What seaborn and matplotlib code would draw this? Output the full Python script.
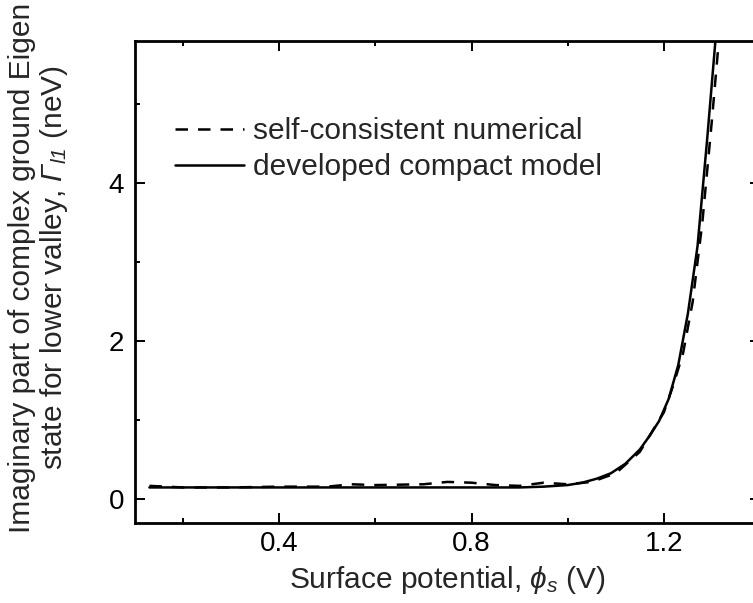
import matplotlib
matplotlib.use("Agg")
import matplotlib.pyplot as plt
import seaborn as sns
import pandas as pd

# Surface potential (V) and imaginary part of the ground eigenstate (neV)
numerical_phi = [0.13, 0.20, 0.30, 0.40, 0.50, 0.55, 0.60, 0.70, 0.75, 0.80, 0.85,
                 0.90, 0.95, 1.00, 1.05, 1.10, 1.15, 1.20, 1.22, 1.24, 1.26, 1.28,
                 1.30, 1.32]
numerical_gamma = [0.17, 0.15, 0.15, 0.16, 0.16, 0.19, 0.18, 0.19, 0.22, 0.21, 0.18,
                   0.17, 0.21, 0.19, 0.22, 0.33, 0.60, 1.10, 1.45, 1.85, 2.50, 3.50,
                   4.80, 6.20]

model_phi = [0.13, 0.20, 0.30, 0.40, 0.50, 0.60, 0.70, 0.80, 0.90, 0.95, 1.00,
             1.03, 1.06, 1.09, 1.12, 1.15, 1.17, 1.19, 1.21, 1.23, 1.25, 1.27,
             1.29, 1.31]
model_gamma = [0.15, 0.15, 0.15, 0.15, 0.15, 0.15, 0.15, 0.15, 0.15, 0.16, 0.18,
               0.21, 0.26, 0.33, 0.45, 0.63, 0.80, 0.99, 1.27, 1.70, 2.35, 3.20,
               4.55, 6.00]

series_names = ["self-consistent numerical", "developed compact model"]

x_ticks = [0.4, 0.8, 1.2]
y_ticks = [0, 2, 4]

df = pd.concat([
    pd.DataFrame({"phi": numerical_phi, "gamma": numerical_gamma, "curve": series_names[0]}),
    pd.DataFrame({"phi": model_phi, "gamma": model_gamma, "curve": series_names[1]}),
], ignore_index=True)

sns.set_style("ticks")
plt.rcParams["font.family"] = ["Liberation Sans", "DejaVu Sans"]
# all math symbols (Greek letters and their subscripts) are set in italic
plt.rcParams["mathtext.fontset"] = "custom"
plt.rcParams["mathtext.rm"] = "Liberation Sans:italic"
plt.rcParams["mathtext.it"] = "Liberation Sans:italic"

W, H = 753, 603
fig = plt.figure(figsize=(W / 100, H / 100), dpi=100)
ax = fig.add_axes([135 / W, (H - 523) / H, 625 / W, 482 / H])

sns.lineplot(data=df, x="phi", y="gamma", style="curve", style_order=series_names,
             dashes={series_names[0]: (5, 4), series_names[1]: ""},
             color="black", linewidth=1.8, sort=False, estimator=None, ax=ax)

ax.set_xlim(0.1, 1.4)
ax.set_ylim(-0.3, 5.8)
ax.set_xticks(x_ticks)
ax.set_xticklabels([f"{t:.1f}" for t in x_ticks])
ax.set_xticks([0.2, 0.6, 1.0], minor=True)
ax.set_yticks(y_ticks)
ax.set_yticklabels([str(t) for t in y_ticks])
ax.set_yticks([1, 3, 5], minor=True)

for side in ["left", "right", "top", "bottom"]:
    ax.spines[side].set_visible(True)
    ax.spines[side].set_linewidth(2.0)
    ax.spines[side].set_color("black")

ax.tick_params(which="both", direction="in", top=True, right=True,
               colors="black", width=1.4)
ax.tick_params(which="major", length=7, labelsize=20)
ax.tick_params(axis="x", which="major", pad=6)
ax.tick_params(axis="y", which="major", pad=8)
ax.tick_params(which="minor", length=3.5)

ax.set_xlabel("")
ax.set_ylabel("")

fig.text(447 / W, 1 - 588 / H, r"Surface potential, $\phi_s$ (V)",
         ha="center", va="baseline", fontsize=21.5)
fig.text(39 / W, 1 - 268 / H,
         "Imaginary part of complex ground Eigen\n"
         r"state for lower valley, $Γ_{l1}$ (neV)",
         ha="center", va="center", rotation=90, fontsize=21.5,
         multialignment="center", linespacing=1.05)

leg = ax.legend(loc="upper left", bbox_to_anchor=(175 / W, 1 - 117 / H),
                bbox_transform=fig.transFigure, frameon=False, fontsize=21.5,
                handlelength=2.3, handletextpad=0.3, labelspacing=0.28,
                borderpad=0, borderaxespad=0, title=None)
for line in leg.get_lines():
    line.set_linewidth(1.8)
    line.set_color("black")

fig.savefig("out.png", dpi=100)
